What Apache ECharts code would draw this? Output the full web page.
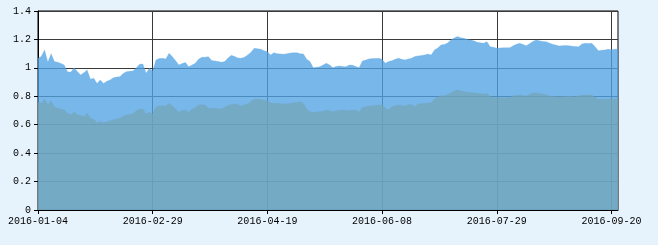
<!DOCTYPE html>
<html>
<head>
<meta charset="utf-8">
<script src="https://cdn.jsdelivr.net/npm/echarts@6/dist/echarts.min.js"></script>
<style>
html,body{margin:0;padding:0;background:#e7f3fc;}
#c{width:658px;height:245px;}
</style>
</head>
<body>
<div id="c"></div>
<script>
// Trading calendar (Shanghai exchange, 2016)
const startDate = '2016-01-04';
const endDate = '2016-09-22';
const holidays = ['2016-02-08','2016-02-09','2016-02-10','2016-02-11','2016-02-12','2016-04-04','2016-05-02','2016-06-09','2016-06-10','2016-09-15','2016-09-16'];

const yTicks = [0, 0.2, 0.4, 0.6, 0.8, 1, 1.2, 1.4];

const upperValues = [
1.067,1.08,1.126,1.04,1.10,1.044,1.04,1.03,1.02,0.973,
0.969,1.0,0.975,0.95,0.965,0.985,0.92,0.927,0.89,0.915,
0.89,0.905,0.915,0.93,0.935,0.938,0.96,0.973,0.976,0.978,
1.0,1.025,1.027,0.962,0.997,0.978,1.056,1.065,1.067,1.063,
1.103,1.079,1.05,1.02,1.03,1.037,1.008,1.02,1.032,1.06,
1.074,1.075,1.079,1.051,1.049,1.044,1.039,1.045,1.07,1.088,
1.08,1.07,1.067,1.075,1.091,1.11,1.138,1.135,1.131,1.12,
1.114,1.091,1.107,1.1,1.098,1.096,1.1,1.104,1.107,1.107,
1.1,1.098,1.06,1.044,1.001,1.005,1.008,1.02,1.032,1.02,
1.001,1.01,1.013,1.01,1.008,1.02,1.018,1.01,1.001,1.049,
1.055,1.063,1.065,1.066,1.067,1.06,1.032,1.044,1.05,1.06,
1.067,1.06,1.056,1.062,1.067,1.08,1.084,1.087,1.09,1.098,
1.091,1.126,1.14,1.161,1.165,1.175,1.196,1.21,1.22,1.212,
1.208,1.2,1.196,1.19,1.18,1.176,1.173,1.184,1.149,1.145,
1.138,1.14,1.141,1.142,1.142,1.155,1.166,1.173,1.165,1.156,
1.17,1.185,1.196,1.19,1.186,1.184,1.175,1.166,1.16,1.154,
1.156,1.158,1.156,1.152,1.15,1.149,1.168,1.173,1.172,1.173,
1.149,1.121,1.124,1.126,1.131,1.128,1.131,1.131
];

const lowerValues = [
0.755,0.75,0.781,0.739,0.769,0.722,0.715,0.708,0.704,0.68,
0.668,0.687,0.67,0.664,0.656,0.68,0.645,0.638,0.614,0.625,
0.614,0.62,0.628,0.635,0.64,0.645,0.66,0.668,0.672,0.675,
0.699,0.708,0.711,0.675,0.687,0.675,0.725,0.732,0.733,0.732,
0.75,0.732,0.71,0.687,0.7,0.704,0.687,0.71,0.72,0.739,
0.74,0.739,0.715,0.716,0.715,0.713,0.711,0.725,0.735,0.742,
0.746,0.74,0.732,0.74,0.746,0.765,0.779,0.78,0.779,0.772,
0.769,0.755,0.75,0.752,0.748,0.747,0.746,0.75,0.755,0.758,
0.762,0.75,0.71,0.692,0.687,0.69,0.692,0.695,0.704,0.697,
0.692,0.699,0.702,0.704,0.7,0.699,0.703,0.704,0.692,0.72,
0.727,0.73,0.734,0.736,0.738,0.739,0.715,0.704,0.727,0.733,
0.739,0.735,0.732,0.74,0.743,0.727,0.746,0.748,0.75,0.752,
0.755,0.781,0.795,0.804,0.803,0.812,0.825,0.838,0.844,0.838,
0.832,0.828,0.825,0.823,0.821,0.818,0.814,0.821,0.797,0.794,
0.79,0.79,0.79,0.79,0.792,0.804,0.806,0.809,0.805,0.802,
0.812,0.822,0.825,0.82,0.816,0.812,0.802,0.8,0.798,0.797,
0.799,0.801,0.802,0.8,0.797,0.803,0.808,0.809,0.809,0.809,
0.792,0.779,0.78,0.78,0.781,0.782,0.783,0.783
];

function buildCategories(s, e, hol) {
  const out = [];
  const d = new Date(s + 'T00:00:00Z');
  const end = new Date(e + 'T00:00:00Z');
  while (d <= end) {
    const iso = d.toISOString().slice(0, 10);
    const wd = d.getUTCDay();
    if (wd !== 0 && wd !== 6 && hol.indexOf(iso) < 0) out.push(iso);
    d.setUTCDate(d.getUTCDate() + 1);
  }
  return out;
}
const categories = buildCategories(startDate, endDate, holidays);

const font = "'Liberation Mono', 'DejaVu Sans Mono', monospace";
const chart = echarts.init(document.getElementById('c'), null, {renderer: 'canvas'});
chart.setOption({
  backgroundColor: '#e7f3fc',
  animation: false,
  grid: {
    left: 38, top: 11, right: 40, bottom: 35,
    show: true, backgroundColor: '#ffffff', borderColor: '#000', borderWidth: 1
  },
  xAxis: {
    type: 'category',
    boundaryGap: false,
    data: categories,
    axisLine: {lineStyle: {color: '#000', width: 1}},
    axisTick: {show: true, interval: 34, length: 4, lineStyle: {color: '#000'}},
    axisLabel: {interval: 34, color: '#000', fontFamily: font, fontSize: 10, margin: 6},
    splitLine: {show: true, interval: 34, lineStyle: {color: '#3a3a3a', width: 1}}
  },
  yAxis: {
    type: 'value',
    min: yTicks[0], max: yTicks[yTicks.length - 1], interval: 0.2,
    axisLine: {show: true, lineStyle: {color: '#000', width: 1}},
    axisTick: {show: true, length: 4, lineStyle: {color: '#000'}},
    axisLabel: {color: '#000', fontFamily: font, fontSize: 10, margin: 7},
    splitLine: {show: true, lineStyle: {color: '#3a3a3a', width: 1}}
  },
  series: [
    {
      type: 'line', data: upperValues, symbol: 'none', smooth: false,
      lineStyle: {width: 0.5, color: 'rgba(82,163,228,0.5)'},
      areaStyle: {color: 'rgba(82,163,228,0.78)', opacity: 1}
    },
    {
      type: 'line', data: lowerValues, symbol: 'none', smooth: false,
      lineStyle: {width: 0.5, color: 'rgba(117,165,183,0.5)'},
      areaStyle: {color: 'rgba(117,165,183,0.72)', opacity: 1}
    }
  ]
});
</script>
</body>
</html>
